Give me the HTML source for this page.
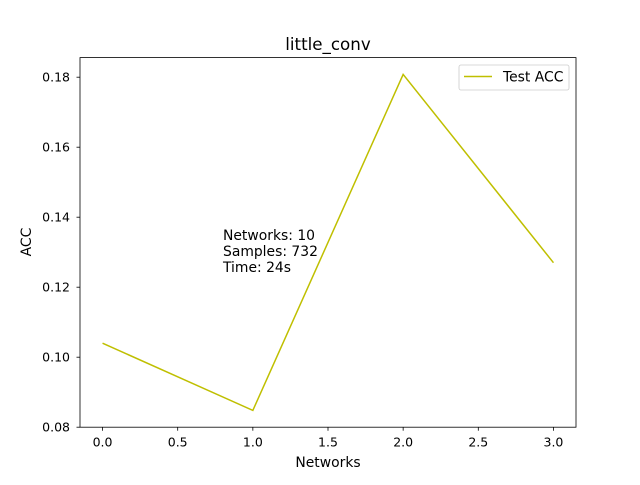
<!DOCTYPE html>
<html><head><meta charset="utf-8"><style>
body{margin:0;background:#fff}
svg text{font-family:"DejaVu Sans","Liberation Sans",sans-serif;fill:#000}
</style></head><body>
<svg width="640" height="480" viewBox="0 0 640 480">
<rect width="640" height="480" fill="#fff"/>
<text x="328" y="50" font-size="16.7" text-anchor="middle">little_conv</text>
<g id="xt"></g>
<g id="yt"></g>
<polyline id="line" fill="none" stroke="#bfbf00" stroke-width="1.5"/>
<rect x="80" y="57.6" width="496" height="369.6" fill="none" stroke="#000" stroke-width="0.8"/>
<text x="328" y="467" font-size="13.9" text-anchor="middle">Networks</text>
<text transform="translate(31,242) rotate(-90)" font-size="13.9" text-anchor="middle">ACC</text>
<g font-size="13.9">
<text x="223" y="240">Networks: 10</text>
<text x="223" y="256">Samples: 732</text>
<text x="223" y="272">Time: 24s</text>
</g>
<g>
<rect x="459" y="65" width="110" height="25" rx="2" fill="#fff" stroke="#ccc" stroke-width="0.8"/>
<line x1="464" y1="76.5" x2="492" y2="76.5" stroke="#bfbf00" stroke-width="1.5"/>
<text x="503" y="81.5" font-size="13.9">Test ACC</text>
</g>
</svg>
<script>
const xs=[0,1,2,3];
const ys=[0.104,0.0848,0.1808,0.127];
const xTicks=[0,0.5,1,1.5,2,2.5,3];
const yTicks=[0.08,0.10,0.12,0.14,0.16,0.18];
const X=v=>80+(v+0.15)/3.3*496;
const Y=v=>427.2-(v-0.08)/0.1056*369.6;
const ns="http://www.w3.org/2000/svg";
const line=document.getElementById('line');
line.setAttribute('points',xs.map((x,i)=>X(x)+','+Y(ys[i])).join(' '));
const xt=document.getElementById('xt'),yt=document.getElementById('yt');
xTicks.forEach(t=>{
 const l=document.createElementNS(ns,'line');
 
 
 l.setAttribute('x1',X(t));l.setAttribute('x2',X(t));l.setAttribute('y1',427.2);l.setAttribute('y2',430.7);l.setAttribute('stroke','#000');l.setAttribute('stroke-width','0.8');
 xt.appendChild(l);
 const s=document.createElementNS(ns,'text');
 
 
 s.setAttribute('x',X(t));s.setAttribute('y',446.5);s.setAttribute('font-size','12.5');s.setAttribute('text-anchor','middle');
 s.textContent=t.toFixed(1);xt.appendChild(s);
});
yTicks.forEach(t=>{
 const l=document.createElementNS(ns,'line');
 
 
 l.setAttribute('x1',76.5);l.setAttribute('x2',80);l.setAttribute('y1',Y(t));l.setAttribute('y2',Y(t));l.setAttribute('stroke','#000');l.setAttribute('stroke-width','0.8');
 yt.appendChild(l);
 const s=document.createElementNS(ns,'text');
 
 
 s.setAttribute('x',70);s.setAttribute('y',Y(t)+4.5);s.setAttribute('font-size','12.5');s.setAttribute('text-anchor','end');
 s.textContent=t.toFixed(2);yt.appendChild(s);
});
</script>
</body></html>
